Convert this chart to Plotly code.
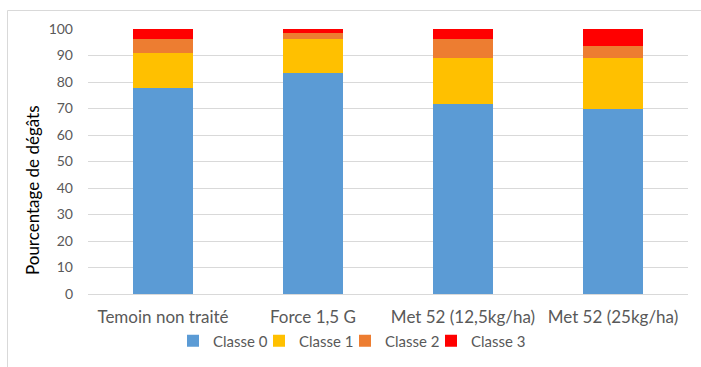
import plotly.graph_objects as go

categories = ["Temoin non traité", "Force 1,5 G", "Met 52 (12,5kg/ha)", "Met 52 (25kg/ha)"]
classe0 = [77.6, 83.5, 71.7, 69.8]
classe1 = [13.3, 12.6, 17.5, 19.4]
classe2 = [5.2, 2.3, 6.9, 4.4]
classe3 = [3.9, 1.6, 3.9, 6.4]
series_names = ["Classe 0", "Classe 1", "Classe 2", "Classe 3"]
colors = ["#5B9BD5", "#FFC000", "#ED7D31", "#FF0000"]
y_ticks = list(range(0, 101, 10))

FONT = "Lato"
GRAY = "#595959"

fig = go.Figure()
for name, vals, col in zip(series_names, [classe0, classe1, classe2, classe3], colors):
    fig.add_trace(go.Bar(x=categories, y=vals, name=name, marker=dict(color=col, line=dict(width=0))))
# invisible spacer entry so the last legend label is not clipped
fig.add_trace(go.Bar(x=categories, y=[None] * len(categories), name=" ",
                     marker=dict(color="rgba(0,0,0,0)", line=dict(width=0, color="rgba(0,0,0,0)")),
                     hoverinfo="skip"))

fig.update_layout(
    barmode="stack",
    bargap=0.6,
    width=701, height=367,
    margin=dict(l=88, r=13, t=29, b=73, autoexpand=False),
    paper_bgcolor="white", plot_bgcolor="white",
    font=dict(family=FONT, size=16, color=GRAY),
    showlegend=True,
    legend=dict(orientation="h", traceorder="normal", x=(173 - 88) / 600, xanchor="left",
                y=(294 - 341) / 265, yanchor="middle", font=dict(size=15, color=GRAY),
                itemwidth=30, entrywidth=41, bgcolor="rgba(0,0,0,0)"),
    xaxis=dict(showgrid=False, showline=True, linecolor="#D9D9D9", linewidth=1,
               ticks="", tickfont=dict(size=17, color=GRAY), ticklabelstandoff=8),
    yaxis=dict(range=[0, 100], tickvals=y_ticks, showgrid=True, gridcolor="#D9D9D9",
               gridwidth=1, zeroline=False, showline=False, ticks="",
               tickfont=dict(size=14, color=GRAY), ticklabelstandoff=14),
    annotations=[dict(text="Pourcentage de dégâts", xref="paper", yref="paper",
                      x=(32 - 88) / 600, y=(294 - 190) / 265, xanchor="center", yanchor="middle",
                      textangle=-90, showarrow=False, font=dict(family=FONT, size=17, color="black"))],
    shapes=[
        dict(type="line", xref="paper", yref="paper", x0=(7.5 - 88) / 600, x1=(701 - 88) / 600,
             y0=(294 - 10.5) / 265, y1=(294 - 10.5) / 265, line=dict(color="#D9D9D9", width=1)),
        dict(type="line", xref="paper", yref="paper", x0=(7.5 - 88) / 600, x1=(7.5 - 88) / 600,
             y0=(294 - 10.5) / 265, y1=(294 - 367) / 265, line=dict(color="#D9D9D9", width=1)),
    ],
)

fig.write_html("out.html")
